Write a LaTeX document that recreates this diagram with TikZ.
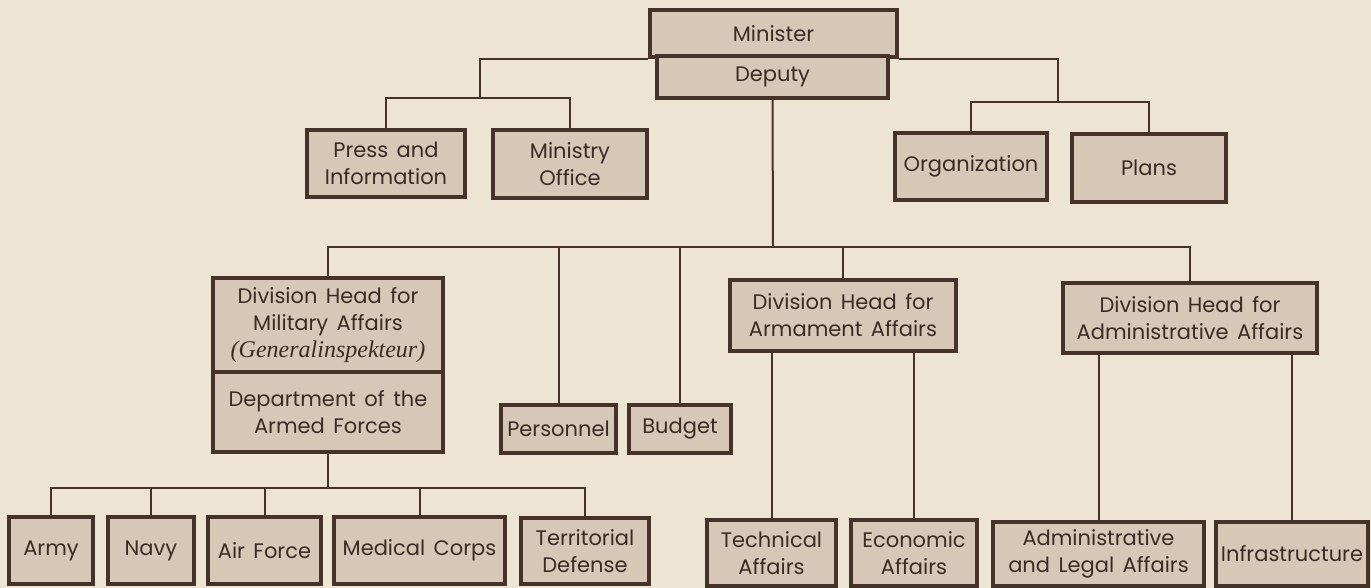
\documentclass[tikz,border=0pt]{standalone}
\usepackage{fontspec}
\setmainfont{Poppins}[WordSpace=1.5]
\newfontfamily\serifit{Liberation Serif}
\definecolor{paper}{HTML}{EEE4D3}
\definecolor{boxfill}{HTML}{D6C7B6}
\definecolor{ink}{HTML}{45332A}
\definecolor{txt}{HTML}{3A2C25}
\begin{document}
\begin{tikzpicture}[x=0.5pt,y=-0.5pt,
  orgbox/.style={draw=ink, fill=boxfill, line width=1.6pt, inner sep=0pt,
    align=center, text=txt, font=\fontsize{10.5}{13.5}\selectfont},
  link/.style={draw=ink, line width=1pt}]
\useasboundingbox (0,0) rectangle (1371,588);
\fill[paper] (0,0) rectangle (1371,588);

% top of the ministry
\node[orgbox, minimum width=123.5pt, minimum height=23.5pt] (min) at (773.5,33.5) {Minister};
\node[orgbox, minimum width=115.5pt, minimum height=21pt] (dep) at (772.5,77) {Deputy};

% staff offices
\node[orgbox, minimum width=79pt, minimum height=33.5pt] (press) at (386,163.5) {Press and\\Information};
\node[orgbox, minimum width=77pt, minimum height=34pt] (office) at (570,164) {Ministry\\Office};
\node[orgbox, minimum width=76pt, minimum height=33.5pt] (org) at (971,166.5) {Organization};
\node[orgbox, minimum width=77pt, minimum height=34pt] (plans) at (1149,168) {Plans};

% divisions
\node[orgbox, minimum width=115pt, minimum height=47pt] (milhead) at (328,325)
  {Division Head for\\Military Affairs\\{\serifit\itshape\fontsize{12}{13.5}\selectfont (Generalinspekteur)}};
\node[orgbox, minimum width=115pt, minimum height=40pt] (dept) at (328,412) {Department of the\\Armed Forces};
\node[orgbox, minimum width=57.5pt, minimum height=24pt] (pers) at (558.5,429) {Personnel};
\node[orgbox, minimum width=51pt, minimum height=24pt] (budget) at (680,429) {Budget};
\node[orgbox, minimum width=113pt, minimum height=35.5pt] (arm) at (843,315.5) {Division Head for\\Armament Affairs};
\node[orgbox, minimum width=127pt, minimum height=35pt] (admdiv) at (1190,318) {Division Head for\\Administrative Affairs};

% armed forces branches
\node[orgbox, minimum width=42pt, minimum height=33.5pt] (army) at (51,550.5) {Army};
\node[orgbox, minimum width=43pt, minimum height=33.5pt] (navy) at (151,550.5) {Navy};
\node[orgbox, minimum width=56.5pt, minimum height=33.5pt] (air) at (264.5,550.5) {Air Force};
\node[orgbox, minimum width=85.5pt, minimum height=33.5pt] (med) at (419.5,550.5) {Medical Corps};
\node[orgbox, minimum width=64pt, minimum height=33pt] (terr) at (585,551) {Territorial\\Defense};

% armament and administration sections
\node[orgbox, minimum width=64.5pt, minimum height=33pt] (tech) at (771.5,553) {Technical\\Affairs};
\node[orgbox, minimum width=63pt, minimum height=33pt] (econ) at (914,553) {Economic\\Affairs};
\node[orgbox, minimum width=105.5pt, minimum height=32pt] (legal) at (1098.5,554) {Administrative\\and Legal Affairs};
\node[orgbox, minimum width=76pt, minimum height=32pt] (infra) at (1292,554) {Infrastructure};

% junction points of the connector buses
\coordinate (jl) at (480,98);
\coordinate (jr) at (1058,102);
\coordinate (bus) at (773,247);
\coordinate (forces) at (328,488);

% connectors
\draw[link] (min.south west) -| (jl);
\draw[link] (press.north) |- (jl) -| (office.north);
\draw[link] (min.south east) -| (jr);
\draw[link] (org.north) |- (jr) -| (plans.north);

\draw[link] (dep.south) -- (bus);
\draw[link] (milhead.north) |- (bus) -| (admdiv.north);
\draw[link] (pers.north) -- (pers.north |- bus);
\draw[link] (budget.north) -- (budget.north |- bus);
\draw[link] (arm.north) -- (arm.north |- bus);

\draw[link] (dept.south) -- (forces);
\draw[link] (army.north) |- (forces) -| (terr.north);
\draw[link] (navy.north) -- (navy.north |- forces);
\draw[link] (air.north) -- (air.north |- forces);
\draw[link] (med.north) -- (med.north |- forces);

\draw[link] (tech.north) -- (tech.north |- arm.south);
\draw[link] (econ.north) -- (econ.north |- arm.south);
\draw[link] (legal.north) -- (legal.north |- admdiv.south);
\draw[link] (infra.north) -- (infra.north |- admdiv.south);
\end{tikzpicture}
\end{document}
